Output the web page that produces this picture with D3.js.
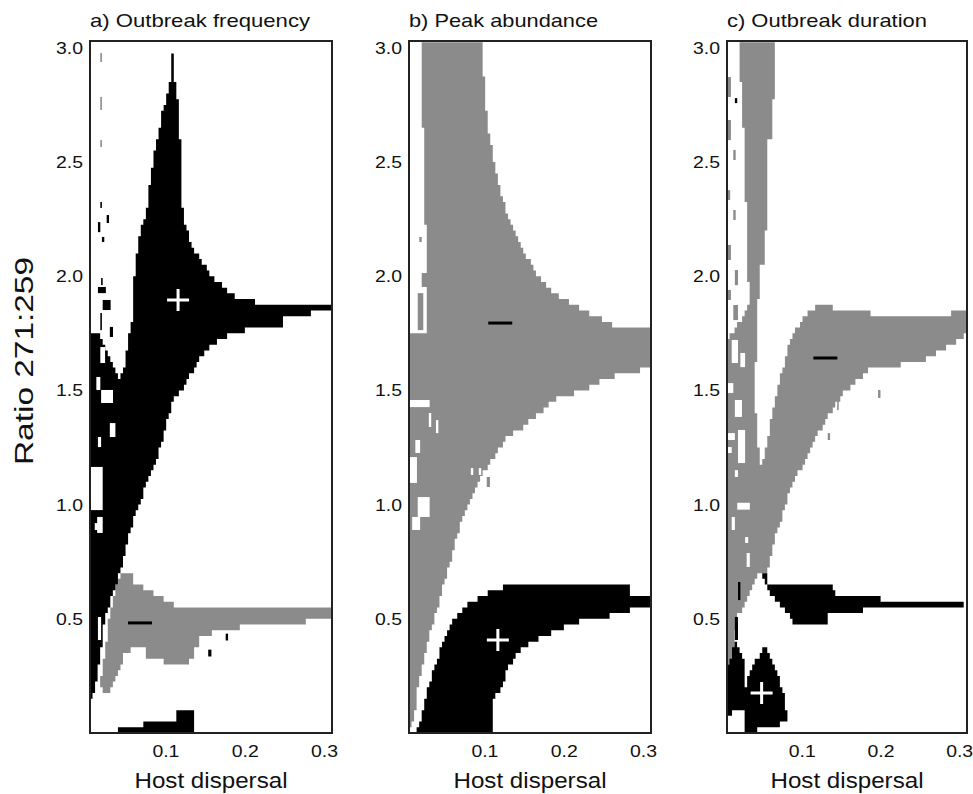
<!DOCTYPE html>
<html>
<head>
<meta charset="utf-8">
<script src="https://cdn.jsdelivr.net/npm/d3@7"></script>
<style>
  body { margin: 0; background: #fff; }
  text { font-family: "Liberation Sans", Arial, Helvetica, sans-serif; fill: #111; }
</style>
</head>
<body>
<script>
// axis values
var xTicks = [0.1, 0.2, 0.3];
var yTicks = [0.5, 1.0, 1.5, 2.0, 2.5, 3.0];
var titles = ["a) Outbreak frequency", "b) Peak abundance", "c) Outbreak duration"];

// regions, as outlines of [host dispersal, ratio]
// a) outbreak frequency
var freqBlack = [[0.108,2.977],[0.111,2.977],[0.111,2.877],[0.115,2.785],[0.121,2.478],[0.122,2.259],[0.131,2.158],[0.144,2.071],[0.160,1.996],[0.178,1.940],[0.194,1.896],[0.215,1.887],[0.282,1.887],[0.282,1.870],[0.310,1.870],[0.310,1.839],[0.282,1.839],[0.282,1.813],[0.248,1.813],[0.248,1.773],[0.215,1.773],[0.185,1.751],[0.165,1.712],[0.152,1.677],[0.144,1.646],[0.140,1.602],[0.127,1.546],[0.121,1.502],[0.110,1.458],[0.093,1.239],[0.077,1.095],[0.064,0.976],[0.052,0.832],[0.045,0.727],[0.037,0.639],[0.028,0.552],[0.021,0.438],[0.018,0.320],[0.011,0.201],[0.008,0.153],[0.005,0.144],[0.005,1.743],[0.018,1.743],[0.030,1.633],[0.043,1.546],[0.049,1.602],[0.053,1.721],[0.058,1.808],[0.059,1.896],[0.062,2.040],[0.068,2.189],[0.077,2.303],[0.083,2.478],[0.091,2.627],[0.097,2.728],[0.101,2.785],[0.107,2.877]];
var freqBlackBottom = [[0.040,0],[0.040,0.026],[0.072,0.026],[0.072,0.053],[0.115,0.053],[0.115,0.088],[0.137,0.088],[0.137,0]];
var freqGray = [[0.043,0.701],[0.058,0.701],[0.058,0.661],[0.071,0.661],[0.071,0.626],[0.084,0.626],[0.084,0.595],[0.097,0.595],[0.097,0.569],[0.110,0.569],[0.110,0.547],[0.310,0.547],[0.310,0.508],[0.276,0.508],[0.276,0.486],[0.194,0.486],[0.194,0.451],[0.178,0.451],[0.178,0.438],[0.160,0.438],[0.160,0.416],[0.144,0.416],[0.144,0.377],[0.135,0.377],[0.135,0.328],[0.131,0.311],[0.097,0.311],[0.097,0.333],[0.077,0.333],[0.077,0.372],[0.059,0.372],[0.049,0.350],[0.043,0.289],[0.037,0.245],[0.030,0.180],[0.020,0.175],[0.018,0.219],[0.021,0.289],[0.026,0.394],[0.030,0.525],[0.037,0.617]];
// scattered cells: [x0, x1, y0, y1, colour]
var freqSpecks = [
  [0.018,0.020,2.938,2.977,"g"],[0.018,0.020,2.728,2.785,"g"],[0.018,0.020,2.566,2.596,"g"],
  [0.018,0.020,2.299,2.325,"k"],[0.026,0.029,2.233,2.268,"k"],[0.015,0.018,2.193,2.237,"k"],
  [0.020,0.023,2.150,2.172,"k"],[0.019,0.021,1.961,1.992,"k"],[0.015,0.025,1.926,1.953,"k"],
  [0.021,0.031,1.852,1.896,"k"],[0.018,0.020,1.764,1.839,"k"],[0.030,0.034,1.734,1.778,"k"],
  [0.018,0.024,1.620,1.690,"w"],[0.019,0.034,1.445,1.502,"w"],[0.013,0.018,1.502,1.559,"w"],
  [0.030,0.037,1.296,1.357,"w"],[0.015,0.019,1.252,1.296,"w"],[0.006,0.021,0.976,1.165,"w"],
  [0.011,0.019,0.889,0.919,"w"],[0.014,0.021,0.876,0.946,"w"],[0.015,0.019,0.407,0.508,"w"],
  [0.024,0.028,0.582,0.613,"k"],[0.154,0.158,0.335,0.365,"k"],[0.176,0.179,0.405,0.435,"k"]
];
var freqPlus = [0.116, 1.896];
var freqMinus = [0.068, 0.482];

// b) peak abundance
var peakGray = [[0.021,3.03],[0.098,3.03],[0.098,2.977],[0.101,2.785],[0.105,2.653],[0.111,2.522],[0.116,2.434],[0.123,2.334],[0.135,2.215],[0.145,2.145],[0.158,2.058],[0.174,1.970],[0.195,1.909],[0.208,1.883],[0.229,1.843],[0.250,1.808],[0.271,1.773],[0.310,1.773],[0.310,1.598],[0.255,1.554],[0.233,1.511],[0.199,1.471],[0.186,1.458],[0.174,1.414],[0.149,1.340],[0.129,1.296],[0.116,1.226],[0.103,1.165],[0.091,1.077],[0.082,1.020],[0.073,0.946],[0.067,0.876],[0.060,0.788],[0.053,0.701],[0.044,0.582],[0.038,0.508],[0.029,0.407],[0.023,0.306],[0.016,0.188],[0.013,0.101],[0.006,0.013],[0.005,0],[0.005,1.751],[0.028,1.751],[0.026,2.189],[0.023,2.553]];
var peakBlack = [[0.098,0.604],[0.113,0.626],[0.126,0.639],[0.284,0.639],[0.284,0.604],[0.310,0.604],[0.310,0.547],[0.294,0.547],[0.268,0.525],[0.252,0.504],[0.208,0.482],[0.195,0.451],[0.179,0.429],[0.164,0.407],[0.149,0.372],[0.136,0.320],[0.129,0.276],[0.122,0.201],[0.111,0.144],[0.111,0],[0.013,0],[0.019,0.057],[0.023,0.101],[0.029,0.188],[0.035,0.263],[0.044,0.350],[0.050,0.429],[0.059,0.482],[0.066,0.508],[0.073,0.547],[0.084,0.574]];
var peakSpecks = [
  [0.018,0.021,2.150,2.172,"g"],[0.021,0.028,1.953,2.014,"g"],[0.016,0.023,1.764,1.926,"g"],
  [0.009,0.015,1.458,1.734,"g"],[0.005,0.031,1.427,1.458,"w"],[0.013,0.019,1.226,1.283,"w"],
  [0.006,0.015,1.095,1.208,"w"],[0.016,0.031,0.946,1.033,"w"],[0.009,0.019,0.889,0.946,"w"],
  [0.030,0.033,1.340,1.401,"w"],[0.039,0.042,1.313,1.370,"w"],[0.083,0.086,1.130,1.160,"w"],
  [0.093,0.096,1.130,1.160,"w"],[0.103,0.107,1.077,1.121,"g"]
];
var peakPlus = [0.117, 0.407];
var peakMinus = [0.120, 1.795];

// c) outbreak duration
var durGrayLeft = [[0.022,3.03],[0.066,3.03],[0.066,2.785],[0.062,2.785],[0.062,2.609],[0.057,2.609],[0.057,2.391],[0.056,2.202],[0.053,2.202],[0.053,2.049],[0.047,2.049],[0.047,1.896],[0.043,1.896],[0.041,1.458],[0.044,1.283],[0.049,1.108],[0.053,0.933],[0.049,0.701],[0.043,0.683],[0.034,0.626],[0.024,0.539],[0.018,0.508],[0.015,0.407],[0.013,0.320],[0.006,0.298],[0.005,0.298],[0.005,1.721],[0.022,1.808],[0.034,1.896],[0.032,1.996],[0.030,2.189],[0.028,2.478],[0.025,2.728],[0.022,2.872]];
var durGrayBand = [[0.119,1.870],[0.140,1.870],[0.142,1.839],[0.187,1.839],[0.187,1.817],[0.291,1.817],[0.291,1.839],[0.310,1.839],[0.310,1.743],[0.304,1.734],[0.285,1.690],[0.272,1.664],[0.250,1.624],[0.206,1.602],[0.191,1.598],[0.180,1.576],[0.174,1.554],[0.164,1.524],[0.155,1.493],[0.149,1.467],[0.142,1.436],[0.136,1.401],[0.130,1.362],[0.123,1.327],[0.117,1.274],[0.110,1.239],[0.104,1.195],[0.098,1.151],[0.091,1.099],[0.085,1.064],[0.079,0.989],[0.072,0.919],[0.066,0.858],[0.062,0.788],[0.057,0.727],[0.053,0.701],[0.049,0.701],[0.046,0.800],[0.044,0.950],[0.044,1.095],[0.049,1.182],[0.056,1.270],[0.060,1.340],[0.063,1.414],[0.069,1.489],[0.072,1.559],[0.079,1.633],[0.083,1.686],[0.089,1.734],[0.094,1.773],[0.100,1.808],[0.107,1.834]];
var durBlackArm = [[0.049,0.701],[0.056,0.701],[0.057,0.661],[0.102,0.661],[0.107,0.639],[0.140,0.639],[0.142,0.604],[0.199,0.604],[0.202,0.574],[0.305,0.574],[0.307,0.552],[0.178,0.552],[0.178,0.517],[0.133,0.517],[0.133,0.486],[0.088,0.486],[0.085,0.517],[0.075,0.552],[0.063,0.595],[0.057,0.639],[0.051,0.683]];
var durBlackBlob = [[0.015,0.394],[0.022,0.363],[0.027,0.306],[0.029,0.188],[0.032,0.245],[0.037,0.289],[0.044,0.333],[0.051,0.363],[0.057,0.363],[0.062,0.328],[0.066,0.289],[0.070,0.245],[0.075,0.201],[0.079,0.158],[0.081,0.057],[0.076,0.057],[0.072,0.035],[0.047,0.035],[0.043,0],[0.028,0],[0.029,0.092],[0.015,0.092],[0.005,0.074],[0.005,0.285],[0.011,0.342]];
var durSpecks = [
  [0.006,0.010,2.785,2.872,"g"],[0.006,0.010,2.596,2.684,"g"],[0.015,0.018,2.758,2.780,"k"],
  [0.013,0.016,2.509,2.553,"g"],[0.006,0.009,2.334,2.377,"g"],[0.013,0.016,2.246,2.290,"g"],
  [0.006,0.010,2.071,2.137,"g"],[0.015,0.019,1.961,2.027,"g"],[0.006,0.010,1.896,1.940,"g"],
  [0.013,0.019,1.808,1.874,"g"],
  [0.011,0.019,1.620,1.721,"w"],[0.022,0.028,1.602,1.664,"w"],[0.006,0.013,1.489,1.532,"w"],
  [0.015,0.024,1.384,1.458,"w"],[0.006,0.015,1.283,1.313,"w"],[0.019,0.028,1.182,1.327,"w"],
  [0.006,0.011,1.226,1.252,"w"],[0.015,0.019,1.121,1.151,"w"],[0.011,0.015,0.889,0.946,"w"],
  [0.028,0.032,0.832,0.858,"w"],[0.030,0.034,0.727,0.788,"w"],[0.018,0.034,0.978,1.008,"w"],
  [0.015,0.019,0.407,0.508,"k"],[0.019,0.022,0.582,0.661,"k"],
  [0.197,0.200,1.467,1.502,"g"],[0.133,0.136,1.283,1.313,"g"],[0.145,0.147,1.414,1.458,"g"]
];
var durPlus = [0.049, 0.175];
var durMinus = [0.130, 1.642];

var GRAY = "#8b8b8b";
var colours = {g: GRAY, k: "#000", w: "#fff"};

var panels = [
  {title: titles[0], left: 90, width: 242, titleLen: 220, gray: [freqGray], black: [freqBlack, freqBlackBottom], specks: freqSpecks, plus: freqPlus, minus: freqMinus},
  {title: titles[1], left: 409, width: 242, titleLen: 189, gray: [peakGray], black: [peakBlack], specks: peakSpecks, plus: peakPlus, minus: peakMinus},
  {title: titles[2], left: 727, width: 240, titleLen: 200, gray: [durGrayLeft, durGrayBand], black: [durBlackArm, durBlackBlob], specks: durSpecks, plus: durPlus, minus: durMinus}
];

var xDomain = [0.005, 0.31], yDomain = [0, 3.03];
// simulation grid step, used to draw the regions as cells
var cellW = 0.0032, cellH = 0.025;
var plotTop = 41, plotH = 692;

var svg = d3.select("body").append("svg")
  .attr("width", 973)
  .attr("height", 794);

var y = d3.scaleLinear()
  .domain(yDomain)
  .range([plotH, 0]);

// fill the grid cells whose centre falls inside one of the outlines
function cellPath(polys, x) {
  var path = d3.path();
  for (var r = 0; r * cellH < yDomain[1]; r++) {
    var yc = (r + 0.5) * cellH, start = -1;
    var y0 = y(Math.min((r + 1) * cellH, yDomain[1])), y1 = y(r * cellH);
    for (var c = 0; ; c++) {
      var x0 = xDomain[0] + c * cellW;
      var xc = x0 + cellW / 2;
      var inside = x0 < xDomain[1] && polys.some(function(poly) { return d3.polygonContains(poly, [xc, yc]); });
      if (inside && start < 0) start = c;
      if (!inside && start >= 0) {
        var xa = x(xDomain[0] + start * cellW), xb = x(Math.min(x0, xDomain[1]));
        path.rect(xa, y0, xb - xa, y1 - y0);
        start = -1;
      }
      if (x0 >= xDomain[1]) break;
    }
  }
  return path.toString();
}

panels.forEach(function(p) {
  var x = d3.scaleLinear()
    .domain(xDomain)
    .range([0, p.width]);

  var g = svg.append("g")
    .attr("transform", "translate(" + p.left + "," + plotTop + ")");

  g.append("path")
    .attr("d", cellPath(p.gray, x))
    .attr("fill", GRAY);

  g.append("path")
    .attr("d", cellPath(p.black, x))
    .attr("fill", "#000");

  g.selectAll(".speck").data(p.specks).enter().append("rect")
    .attr("class", "speck")
    .attr("x", function(d) { return x(d[0]); })
    .attr("y", function(d) { return y(d[3]); })
    .attr("width", function(d) { return x(d[1]) - x(d[0]); })
    .attr("height", function(d) { return y(d[2]) - y(d[3]); })
    .attr("fill", function(d) { return colours[d[4]]; });

  // plus (white) and minus (black) markers
  var px = x(p.plus[0]), py = y(p.plus[1]);
  g.append("path")
    .attr("d", "M" + (px - 11) + "," + py + "H" + (px + 11) + "M" + px + "," + (py - 11) + "V" + (py + 11))
    .attr("stroke", "#fff").attr("stroke-width", 3);
  var mx = x(p.minus[0]), my = y(p.minus[1]);
  g.append("path")
    .attr("d", "M" + (mx - 12) + "," + my + "H" + (mx + 12))
    .attr("stroke", "#000").attr("stroke-width", 3);

  // axes
  var yAxis = g.append("g")
    .call(d3.axisLeft(y).tickValues(yTicks).tickSize(0).tickPadding(7).tickFormat(d3.format(".1f")));
  var xAxis = g.append("g")
    .attr("transform", "translate(0," + plotH + ")")
    .call(d3.axisBottom(x).tickValues(xTicks).tickSize(0).tickPadding(12).tickFormat(d3.format(".1f")));
  [yAxis, xAxis].forEach(function(a) {
    a.select(".domain").remove();
    a.attr("font-size", 17).attr("font-family", null);
    a.selectAll("text")
      .attr("fill", "#111")
      .attr("textLength", 27)
      .attr("lengthAdjust", "spacingAndGlyphs");
  });

  g.append("rect")
    .attr("width", p.width)
    .attr("height", plotH)
    .attr("fill", "none")
    .attr("stroke", "#222")
    .attr("stroke-width", 2);

  g.append("text")
    .attr("x", 0)
    .attr("y", 27 - plotTop)
    .attr("font-size", 19)
    .attr("textLength", p.titleLen)
    .attr("lengthAdjust", "spacingAndGlyphs")
    .text(p.title);

  g.append("text")
    .attr("x", p.width / 2)
    .attr("y", 788 - plotTop)
    .attr("text-anchor", "middle")
    .attr("font-size", 22)
    .attr("textLength", 153)
    .attr("lengthAdjust", "spacingAndGlyphs")
    .text("Host dispersal");
});

svg.append("text")
  .attr("transform", "translate(33,361) rotate(-90)")
  .attr("text-anchor", "middle")
  .attr("font-size", 25)
  .attr("textLength", 208)
  .attr("lengthAdjust", "spacingAndGlyphs")
  .text("Ratio 271:259");
</script>
</body>
</html>
